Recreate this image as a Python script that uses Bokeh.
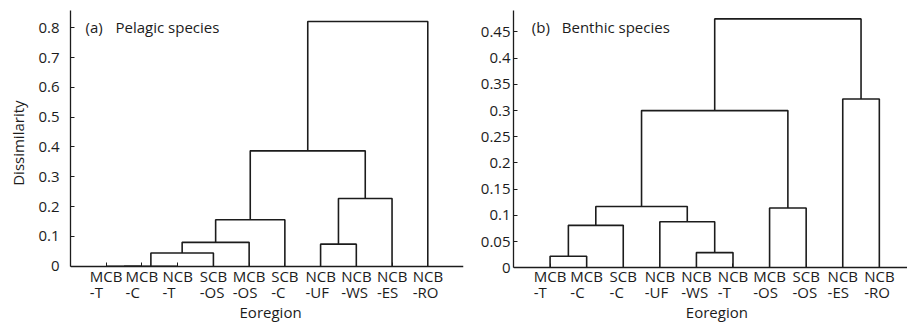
from bokeh.plotting import figure
from bokeh.models import Range1d, FixedTicker, CustomJSTickFormatter, ColumnDataSource
from bokeh.core.properties import value
from bokeh.layouts import row
from bokeh.embed import file_html
from bokeh.resources import INLINE

FONT = "Open Sans"
INK = "#1c1c1c"

# ---------------- data ----------------
# Panel (a) pelagic species: leaf order and linkage (ids: leaves 0-9, clusters 10+)
leaves_a = ["MCB-T", "MCB-C", "NCB-T", "SCB-OS", "MCB-OS", "SCB-C",
            "NCB-UF", "NCB-WS", "NCB-ES", "NCB-RO"]
merge_left_a = [0, 10, 11, 12, 13, 6, 15, 14, 17]
merge_right_a = [1, 2, 3, 4, 5, 7, 8, 16, 9]
merge_height_a = [0.0, 0.0, 0.044, 0.080, 0.156, 0.074, 0.227, 0.387, 0.821]
yticks_a = [0, 0.1, 0.2, 0.3, 0.4, 0.5, 0.6, 0.7, 0.8]

# Panel (b) benthic species
leaves_b = ["MCB-T", "MCB-C", "SCB-C", "NCB-UF", "NCB-WS", "NCB-T",
            "MCB-OS", "SCB-OS", "NCB-ES", "NCB-RO"]
merge_left_b = [0, 10, 4, 3, 11, 6, 14, 8, 16]
merge_right_b = [1, 2, 5, 12, 13, 7, 15, 9, 17]
merge_height_b = [0.022, 0.081, 0.029, 0.088, 0.117, 0.114, 0.300, 0.322, 0.475]
yticks_b = [0, 0.05, 0.1, 0.15, 0.2, 0.25, 0.3, 0.35, 0.4, 0.45]

# approximate Open Sans advance widths (em) for centring the first label line
ADV = {"M": 0.905, "N": 0.742, "S": 0.549, "C": 0.633, "B": 0.643}


def dendro_lines(n, left, right, height):
    pos = [float(i + 1) for i in range(n)]
    hh = [0.0] * n
    xs, ys = [], []
    for l, r, h in zip(left, right, height):
        xl, xr = pos[l], pos[r]
        xs.append([xl, xl, xr, xr])
        ys.append([hh[l], h, h, hh[r]])
        pos.append((xl + xr) / 2.0)
        hh.append(h)
    return xs, ys


def panel(leaves, ml, mr, mh, yticks, x_end, y_start, y_end, width, height,
          b_left, b_right, b_top, tag, title, tag_xy, title_x,
          line1_y, line2_y, eo_xy, ylabel, label_standoff):
    p = figure(width=width, height=height,
               x_range=Range1d(0, x_end), y_range=Range1d(y_start, y_end),
               output_backend="svg", toolbar_location=None,
               min_border_left=b_left, min_border_right=b_right,
               min_border_top=b_top, min_border_bottom=0)
    p.outline_line_color = None
    p.grid.visible = False
    p.background_fill_color = "white"
    p.border_fill_color = "white"

    xs, ys = dendro_lines(len(leaves), ml, mr, mh)
    p.multi_line(xs=xs, ys=ys, line_color=INK, line_width=1.6)

    n = len(leaves)
    xpos = [i + 1 for i in range(n)]
    # x axis drawn at y = 0 inside the frame
    xa = p.xaxis[0]
    xa.fixed_location = 0
    xa.bounds = (0, x_end)
    xa.ticker = FixedTicker(ticks=xpos)
    xa.formatter = CustomJSTickFormatter(code="return ''")
    xa.major_label_text_font_size = "0px"
    xa.major_label_standoff = 0
    xa.major_tick_in = 4
    xa.major_tick_out = 0
    xa.minor_tick_line_color = None
    xa.axis_line_color = INK
    xa.axis_line_width = 1.3
    xa.major_tick_line_color = INK

    # y axis
    ya = p.yaxis[0]
    ya.bounds = (0, y_end)
    ya.ticker = FixedTicker(ticks=yticks)
    ya.formatter = CustomJSTickFormatter(code="return tick.toString()")
    ya.major_tick_in = 4
    ya.major_tick_out = 0
    ya.minor_tick_line_color = None
    ya.axis_line_color = INK
    ya.axis_line_width = 1.3
    ya.major_tick_line_color = INK
    ya.major_label_text_font = FONT
    ya.major_label_text_font_size = "15px"
    ya.major_label_text_color = INK
    ya.major_label_standoff = label_standoff
    if ylabel:
        ya.axis_label = ylabel
        ya.axis_label_text_font = FONT
        ya.axis_label_text_font_size = "15px"
        ya.axis_label_text_font_style = "normal"
        ya.axis_label_text_color = INK
        ya.axis_label_standoff = 7

    # leaf labels (two lines, left aligned, block centred on leaf)
    first = [s.split("-")[0] for s in leaves]
    second = ["-" + s.split("-")[1] for s in leaves]
    offs = [-0.5 * 15 * sum(ADV.get(c, 0.6) for c in f) for f in first]
    src = ColumnDataSource(dict(x=xpos, t1=first, t2=second, off=offs,
                                y1=[line1_y] * n, y2=[line2_y] * n))
    for col_t, col_y in (("t1", "y1"), ("t2", "y2")):
        p.text(x="x", y=col_y, text=col_t, source=src, x_offset="off",
               text_align="left", text_baseline="alphabetic",
               text_font=value(FONT), text_font_size="15px", text_color=INK)

    p.text(x=[eo_xy[0]], y=[eo_xy[1]], text=["Eoregion"],
           text_align="center", text_baseline="alphabetic",
           text_font=value(FONT), text_font_size="15px", text_color=INK)
    p.text(x=[tag_xy[0]], y=[tag_xy[1]], text=[tag],
           text_align="left", text_baseline="middle",
           text_font=value(FONT), text_font_size="15px", text_color=INK)
    p.text(x=[title_x], y=[tag_xy[1]], text=[title],
           text_align="left", text_baseline="middle",
           text_font=value(FONT), text_font_size="15px", text_color=INK)
    return p


pa = panel(leaves_a, merge_left_a, merge_right_a, merge_height_a, yticks_a,
           x_end=11, y_start=-0.189, y_end=0.858, width=470, height=322,
           b_left=70, b_right=7, b_top=10,
           tag="(a)", title="Pelagic species", tag_xy=(0.42, 0.802), title_x=1.26,
           line1_y=-0.0346, line2_y=-0.0866, eo_xy=(5.6, -0.1554),
           ylabel="\u00a0" * 12 + "Dissimilarity", label_standoff=11)

pb = panel(leaves_b, merge_left_b, merge_right_b, merge_height_b, yticks_b,
           x_end=10.77, y_start=-0.1044, y_end=0.491, width=437, height=322,
           b_left=43, b_right=0, b_top=10,
           tag="(b)", title="Benthic species", tag_xy=(0.50, 0.459), title_x=1.32,
           line1_y=-0.0153, line2_y=-0.0471, eo_xy=(5.56, -0.0853),
           ylabel=None, label_standoff=3)

layout = row(pa, pb)
open("out.html", "w").write(file_html(layout, INLINE))
